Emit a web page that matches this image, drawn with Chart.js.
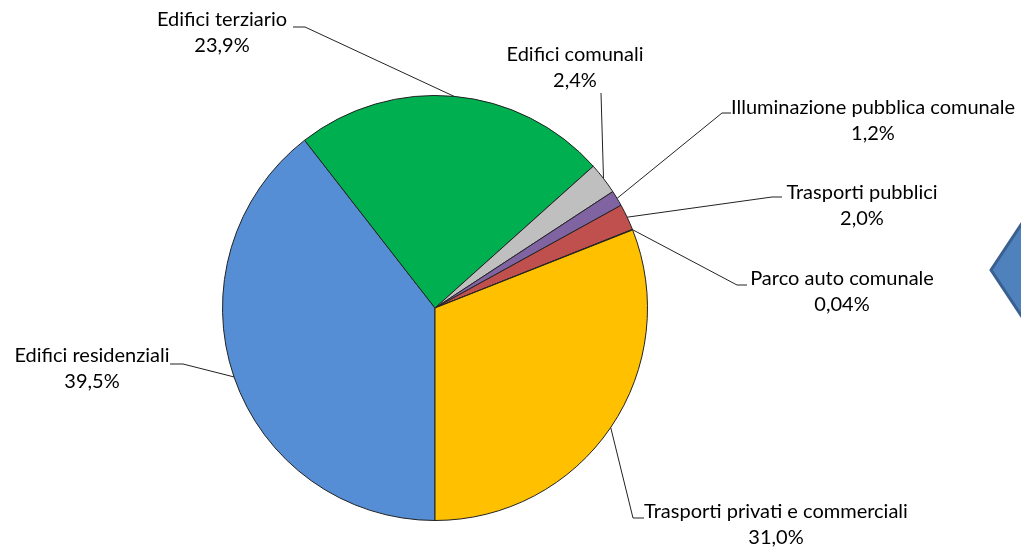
<!DOCTYPE html>
<html>
<head>
<meta charset="utf-8">
<script src="https://cdn.jsdelivr.net/npm/chart.js@4"></script>
<style>
  html, body { margin: 0; padding: 0; background: #fff; }
  #wrap { width: 1021px; height: 547px; position: relative; }
</style>
</head>
<body>
<div id="wrap"><canvas id="pie"></canvas></div>
<script>
const categories = [
    'Edifici residenziali',
    'Edifici terziario',
    'Edifici comunali',
    'Illuminazione pubblica comunale',
    'Trasporti pubblici',
    'Parco auto comunale',
    'Trasporti privati e commerciali'
];
const shares = [39.5, 23.9, 2.4, 1.2, 2.0, 0.04, 31.0];
const sliceColors = ['#558ED5', '#00B050', '#BFBFBF', '#8064A2', '#C0504D', '#4BACC6', '#FFC000'];

// where each label sits: text centre, and the elbow of the leader line
const labelLayout = [
    { x: 92,  y: 356, elbow: [183, 364], tail: [170, 364] },
    { x: 222, y: 20,  elbow: [305, 27],  tail: [293, 27] },
    { x: 575, y: 55,  elbow: [601, 93],  tail: null },
    { x: 873, y: 108, elbow: [722, 113], tail: [731, 113] },
    { x: 862, y: 193, elbow: [772, 197], tail: [782, 197] },
    { x: 842, y: 279, elbow: [737, 285], tail: [747, 285] },
    { x: 776, y: 512, elbow: [633, 518], tail: [644, 518] }
];

const fontFamily = 'Lato, "Open Sans", sans-serif';

function fmt(v) {
    return v.toLocaleString('it-IT', { minimumFractionDigits: 1, maximumFractionDigits: 2 }) + '%';
}

const leaderLabels = {
    id: 'leaderLabels',
    afterDatasetsDraw(chart) {
        const ctx = chart.ctx;
        const arcs = chart.getDatasetMeta(0).data;
        ctx.save();
        arcs.forEach((arc, i) => {
            const lay = labelLayout[i];
            const mid = (arc.startAngle + arc.endAngle) / 2;
            const ex = arc.x + Math.cos(mid) * arc.outerRadius;
            const ey = arc.y + Math.sin(mid) * arc.outerRadius;
            ctx.strokeStyle = '#222';
            ctx.lineWidth = 1;
            ctx.beginPath();
            if (lay.tail) ctx.moveTo(lay.tail[0], lay.tail[1]);
            else ctx.moveTo(lay.elbow[0], lay.elbow[1]);
            ctx.lineTo(lay.elbow[0], lay.elbow[1]);
            ctx.lineTo(ex, ey);
            ctx.stroke();

            ctx.fillStyle = '#000';
            ctx.font = '20px ' + fontFamily;
            ctx.textAlign = 'center';
            ctx.textBaseline = 'middle';
            ctx.fillText(categories[i], lay.x, lay.y);
            ctx.fillText(fmt(shares[i]), lay.x, lay.y + 26);
        });

        // decorative chevron at the right edge
        ctx.beginPath();
        ctx.moveTo(991, 270);
        ctx.lineTo(1040, 196);
        ctx.lineTo(1040, 344);
        ctx.closePath();
        ctx.fillStyle = '#4F81BD';
        ctx.fill();
        ctx.lineWidth = 3;
        ctx.strokeStyle = '#3A6090';
        ctx.stroke();
        ctx.restore();
    }
};

new Chart(document.getElementById('pie'), {
    type: 'pie',
    data: {
        labels: categories,
        datasets: [{
            data: shares,
            backgroundColor: sliceColors,
            borderColor: '#222',
            borderWidth: 1
        }]
    },
    options: {
        responsive: true,
        maintainAspectRatio: false,
        animation: false,
        rotation: 180,
        layout: { padding: { top: 95, bottom: 26, left: 0, right: 151 } },
        plugins: {
            legend: { display: false },
            tooltip: { enabled: false }
        }
    },
    plugins: [leaderLabels]
});
</script>
</body>
</html>
